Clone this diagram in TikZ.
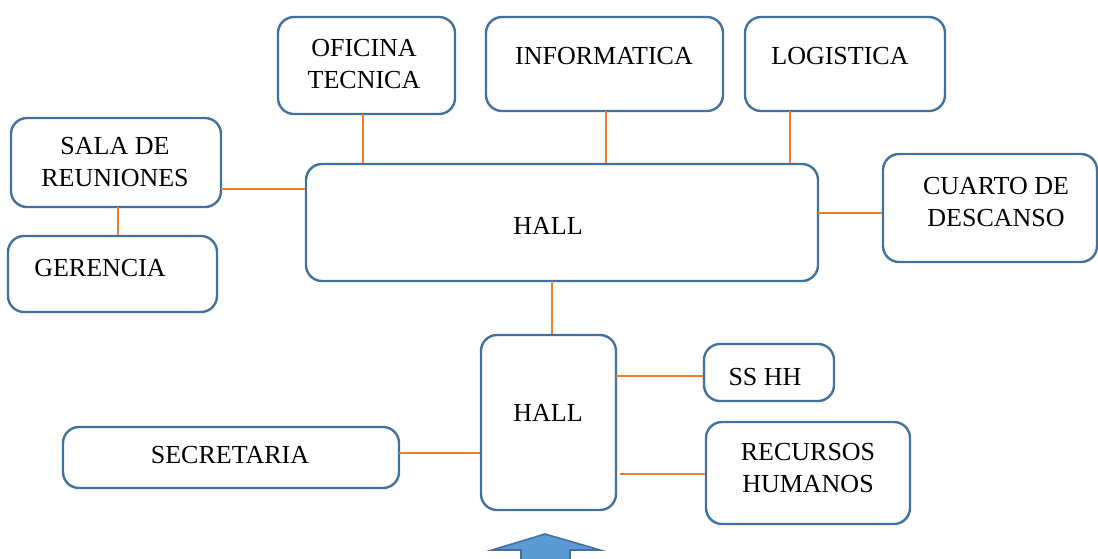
\documentclass[tikz,border=0pt]{standalone}
\usepackage{fontspec}
\setmainfont{Liberation Serif}
\usetikzlibrary{fit}

\definecolor{roomblue}{RGB}{65,113,156}
\definecolor{linkorange}{RGB}{237,125,49}
\definecolor{arrowblue}{RGB}{91,155,213}

\tikzset{
	room/.style={draw=roomblue, line width=1.8pt, rounded corners=12pt, inner sep=0pt},
	link/.style={linkorange, line width=1.9pt},
	txt/.style={font=\fontsize{19.5}{23.3}\selectfont, align=center, inner sep=0pt},
}

\begin{document}
\begin{tikzpicture}[x=0.75pt, y=-0.75pt]
	
	\useasboundingbox (0,0) rectangle (1098,558);
	
	% rooms
	\node[room, fit={(278,17) (455,114)}] (oficina) {};
	\node[room, fit={(486,17) (723,111)}] (informatica) {};
	\node[room, fit={(745,17) (945,111)}] (logistica) {};
	\node[room, fit={(11,118) (221,207)}] (sala) {};
	\node[room, fit={(8,236) (217,312)}] (gerencia) {};
	\node[room, fit={(306,164) (818,281)}] (hall) {};
	\node[room, fit={(883,154) (1097,262)}] (cuarto) {};
	\node[room, fit={(481,335) (616,510)}] (hallb) {};
	\node[room, fit={(704,344) (834,401)}] (sshh) {};
	\node[room, fit={(706,422) (910,524)}] (rrhh) {};
	\node[room, fit={(63,427) (399,488)}] (secretaria) {};
	
	% labels
	\node[txt] (oficina-t) at (364,64) {OFICINA\\TECNICA};
	\node[txt] (informatica-t) at (604,56) {INFORMATICA};
	\node[txt] (logistica-t) at (840,56) {LOGISTICA};
	\node[txt] (sala-t) at (115,162) {SALA DE\\REUNIONES};
	\node[txt] (gerencia-t) at (100,268) {GERENCIA};
	\node[txt] (hall-t) at (548,226) {HALL};
	\node[txt] (cuarto-t) at (996,202) {CUARTO DE\\DESCANSO};
	\node[txt] (hallb-t) at (548,413) {HALL};
	\node[txt] (sshh-t) at (765,377) {SS HH};
	\node[txt] (rrhh-t) at (808,468) {RECURSOS\\HUMANOS};
	\node[txt] (secretaria-t) at (230,455) {SECRETARIA};
	
	% connections
	\coordinate (c1) at (363,114);
	\coordinate (c2) at (606,111);
	\coordinate (c3) at (790,111);
	\coordinate (c4) at (221,189);
	\coordinate (c5) at (118,207);
	\coordinate (c6) at (818,213);
	\coordinate (c7) at (552,281);
	\coordinate (c8) at (616,376);
	\coordinate (c9) at (620,474);
	\coordinate (c10) at (399,453);
	
	\draw[link] (c1) -- (c1 |- hall.north);
	\draw[link] (c2) -- (c2 |- hall.north);
	\draw[link] (c3) -- (c3 |- hall.north);
	\draw[link] (c4) -- (c4 -| hall.west);
	\draw[link] (c5) -- (c5 |- gerencia.north);
	\draw[link] (c6) -- (c6 -| cuarto.west);
	\draw[link] (c7) -- (c7 |- hallb.north);
	\draw[link] (c8) -- (c8 -| sshh.west);
	\draw[link] (c9) -- (c9 -| rrhh.west);
	\draw[link] (c10) -- (c10 -| hallb.west);
	
	% entrance arrow
	\draw[fill=arrowblue, draw=roomblue, line width=1.2pt] (521,570) -- (521,550) -- (492,550) -- (545,534) -- (600,550) -- (570,550) -- (570,570);
	
\end{tikzpicture}
\end{document}
